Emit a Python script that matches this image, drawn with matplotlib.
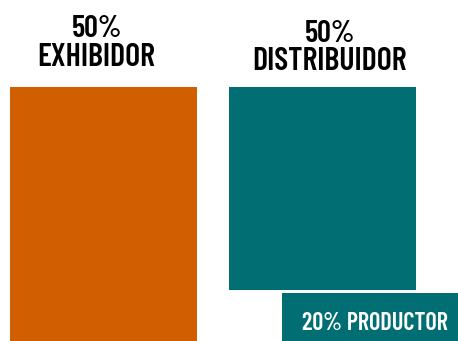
import matplotlib
matplotlib.use("Agg")
import matplotlib.pyplot as plt

# reparto de ingresos
categories = ["EXHIBIDOR", "DISTRIBUIDOR"]
shares = [50, 50]
bar_bottoms = [0, 10]
producer_label = "PRODUCTOR"
producer_share = 20
producer_height = 9.5

ORANGE = "#D15E00"
TEAL = "#006E73"
FONT = ["Barlow Condensed", "DejaVu Sans"]

fig = plt.figure(figsize=(4.58, 3.41), dpi=100)
ax = fig.add_axes([0, 0, 1, 1])

x = [0, 1]
heights = [s - b for s, b in zip(shares, bar_bottoms)]
ax.bar(x, heights, bottom=bar_bottoms, width=0.854, color=[ORANGE, TEAL])

# caja del productor, abajo a la derecha
ax.bar(0.815, producer_height, width=0.9, align="edge", color=TEAL)
ax.text(1.240, 2.2, f"{producer_share}% {producer_label}",
        ha="center", va="baseline", color="white", fontsize=17.5,
        family=FONT, weight=600)

# rotulos sobre cada barra (el de la derecha va algo mas bajo)
x_offsets = [-0.032, 0.032]
name_pts = [15, 12]
pct_pts = [36, 32.5]
for xi, cat, share, dx, n_off, p_off in zip(x, categories, shares, x_offsets, name_pts, pct_pts):
    ax.annotate(cat, (xi + dx, share), xytext=(0, n_off), textcoords="offset points",
                ha="center", va="baseline", fontsize=23, family=FONT, weight=600)
    ax.annotate(f"{share}%", (xi + dx, share), xytext=(0, p_off), textcoords="offset points",
                ha="center", va="baseline", fontsize=22, family=FONT, weight=600)

ax.set_xlim(-0.473, 1.619)
ax.set_ylim(0, 67.1)
ax.axis("off")

fig.savefig("out.png", dpi=100)
